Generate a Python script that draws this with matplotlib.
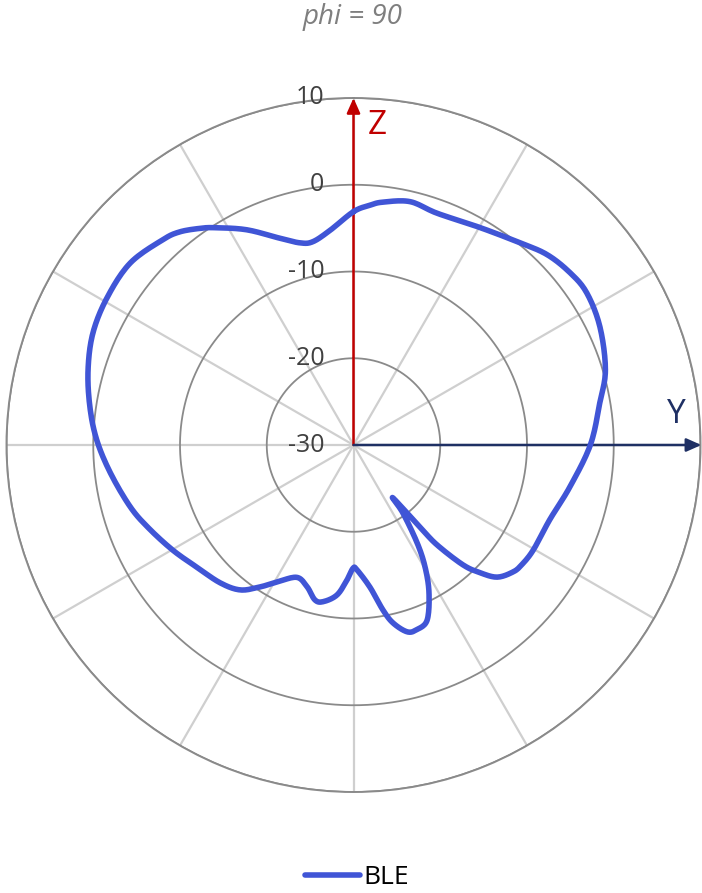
import numpy as np
import matplotlib
matplotlib.use("Agg")
import matplotlib.pyplot as plt
from matplotlib.lines import Line2D

plt.rcParams['font.family'] = ['Open Sans', 'DejaVu Sans']

# ---- data (angle in degrees clockwise from +Z, gain in dB) ----
theta_deg = [0.0, 3.9, 6.9, 13.1, 19.8, 30.2, 39.5, 45.5, 51.5, 56.9, 64.4, 73.4,
             80.3, 90.0, 101.0, 110.9, 120.3, 125.5, 128.5, 132.6, 135.3, 137.6,
             140.1, 141.0, 143.3, 144.0, 147.0, 149.6, 152.9, 157.2, 161.1, 164.0,
             167.5, 169.9, 173.4, 178.4, 180.2, 182.8, 186.3, 191.0, 194.0, 198.1,
             203.2, 209.2, 213.4, 218.0, 224.0, 232.0, 239.8, 248.0, 254.5,
             263.4, 271.1, 278.2, 285.8, 293.3, 301.0, 309.2, 317.1, 320.8, 324.7,
             327.5, 333.6, 340.4, 345.2, 348.7, 353.8, 360.0]
gain_db = [-3.1, -2.3, -1.8, -1.2, -1.6, -1.0, 0.2, 1.3, 1.9, 2.1, 1.5, 0.3,
           -1.2, -2.7, -4.6, -5.8, -6.0, -6.2, -6.5, -7.5, -9.3, -11.3,
           -15.0, -17.8, -22.4, -20.3, -16.5, -13.7, -10.9, -8.1, -7.5, -7.6,
           -9.0, -10.7, -13.5, -15.6, -15.8, -14.4, -12.6, -11.6, -11.6, -12.8,
           -13.4, -11.9, -10.4, -8.8, -7.9, -7.1, -5.9, -4.5, -3.3,
           -1.8, -0.4, 0.7, 1.8, 2.7, 3.1, 3.2, 2.3, 1.7, 0.6,
           -0.3, -2.3, -4.7, -5.9, -6.1, -5.1, -3.1]
r_ticks = [-30, -20, -10, 0, 10]
series_name = "BLE"
title_text = "phi = 90"

R_MIN, R_MAX = -30, 10


def smooth_polar(th_deg, vals, n=12):
    """Closed Catmull-Rom smoothing (like a spreadsheet 'smoothed line'),
    done in the plane of the chart, returned as (theta, r) for the polar axes."""
    th = np.deg2rad(np.asarray(th_deg[:-1]))
    rr = np.asarray(vals[:-1]) - R_MIN
    x = rr * np.sin(th)
    y = rr * np.cos(th)
    P = np.column_stack([x, y])
    m = len(P)
    out = []
    t = np.linspace(0, 1, n, endpoint=False)[:, None]
    for i in range(m):
        p0, p1, p2, p3 = P[i - 1], P[i], P[(i + 1) % m], P[(i + 2) % m]
        c1 = p1 + (p2 - p0) / 6.0
        c2 = p2 - (p3 - p1) / 6.0
        seg = ((1 - t) ** 3) * p1 + 3 * ((1 - t) ** 2) * t * c1 + \
            3 * (1 - t) * t ** 2 * c2 + t ** 3 * p2
        out.append(seg)
    out.append(P[:1])
    S = np.vstack(out)
    theta = np.arctan2(S[:, 0], S[:, 1])
    radius = np.hypot(S[:, 0], S[:, 1]) + R_MIN
    return theta, radius


W, H = 702, 893
fig = plt.figure(figsize=(W / 100, H / 100), dpi=100)
cx, cy, R = 353.5, 445.0, 347.0
ax = fig.add_axes([(cx - R) / W, (H - cy - R) / H, 2 * R / W, 2 * R / H],
                  projection='polar')
ax.set_theta_zero_location('N')
ax.set_theta_direction(-1)
ax.set_ylim(R_MIN, R_MAX)
ax.set_rticks(r_ticks)
ax.set_yticklabels([])
ax.set_xticks(np.deg2rad(np.arange(0, 360, 30)))
ax.set_xticklabels([])
ax.grid(False)
ax.spines['polar'].set_color('#8a8a8a')
ax.spines['polar'].set_linewidth(1.4)

# spokes
for a in np.arange(0, 360, 30):
    ax.plot([np.deg2rad(a)] * 2, [R_MIN, R_MAX], color='#cfcfcf', lw=1.6, zorder=1)
# rings
tt = np.linspace(0, 2 * np.pi, 400)
for rv in r_ticks[1:]:
    ax.plot(tt, [rv] * len(tt), color='#8a8a8a', lw=1.3, zorder=2)

# tick labels
for rv in r_ticks:
    ax.annotate(str(rv), xy=(0, rv), xycoords='data', xytext=(-21, 0),
                textcoords='offset points', ha='right', va='center',
                fontsize=18, color='#404040', zorder=3)

# axis arrows
ax.annotate('', xy=(0, R_MAX), xytext=(0, R_MIN), xycoords='data',
            arrowprops=dict(arrowstyle='-|>,head_length=0.9,head_width=0.4',
                            color='#c00000', lw=1.8, shrinkA=0, shrinkB=0),
            zorder=4, annotation_clip=False)
ax.annotate('', xy=(np.pi / 2, R_MAX + 0.1), xytext=(0, R_MIN), xycoords='data',
            arrowprops=dict(arrowstyle='-|>,head_length=0.9,head_width=0.4',
                            color='#1f3064', lw=1.8, shrinkA=0, shrinkB=0),
            zorder=4, annotation_clip=False)
fig.text(377 / W, 1 - 125 / H, 'Z', color='#c00000', fontsize=24,
         ha='center', va='center')
fig.text(676 / W, 1 - 414 / H, 'Y', color='#1f3064', fontsize=24,
         ha='center', va='center')

# data (smoothed line through the read points)
st, sr = smooth_polar(theta_deg, gain_db)
ax.plot(st, sr, color='#4055d6', lw=4.0,
        solid_joinstyle='round', solid_capstyle='round', zorder=5)

fig.text(353 / W, 1 - 17 / H, title_text, fontsize=20, style='italic',
         color='#7f7f7f', ha='center', va='center')

handle = Line2D([], [], color='#4055d6', lw=4.0, solid_capstyle='round')
fig.legend([handle], [series_name], loc='center',
           bbox_to_anchor=(357 / W, 1 - 878 / H), frameon=False,
           fontsize=19, handlelength=2.1, handletextpad=0.15)

fig.savefig('out.png', dpi=100)
